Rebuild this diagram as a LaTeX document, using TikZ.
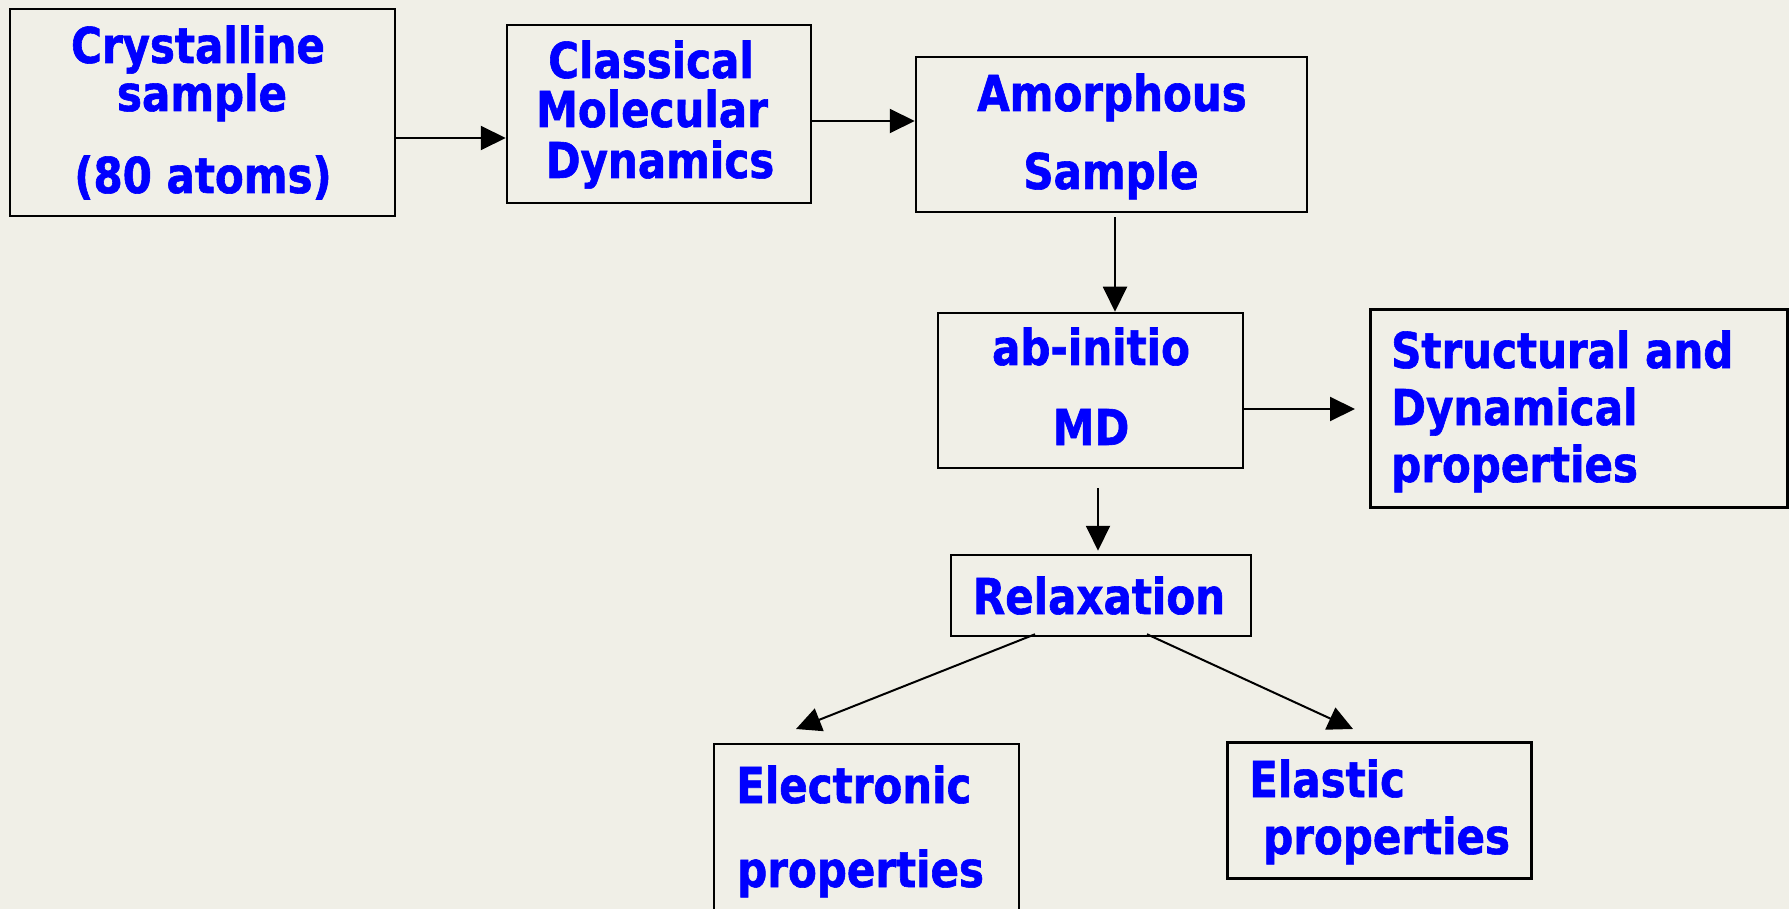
\documentclass[tikz,border=0pt]{standalone}
\usepackage{fontspec}
\newfontfamily\labfont{DejaVu Sans}[FakeStretch=0.85,FakeBold=1.2]
\usetikzlibrary{arrows.meta,fit}
\definecolor{paper}{RGB}{240,239,231}
\definecolor{ink}{RGB}{0,0,255}
\tikzset{
  stage/.style={draw=black, line width=2.5pt, rectangle, inner sep=0pt},
  heavy/.style={line width=3pt},
  txt/.style={anchor=base, inner sep=0pt, text=ink,
    font=\labfont\bfseries\fontsize{49.4}{59}\selectfont},
  txtl/.style={txt, anchor=base west},
  arr/.style={line width=2pt, -{Triangle[length=25pt,width=24pt]}},
}
\begin{document}
\begin{tikzpicture}[x=1pt,y=-1pt]
\useasboundingbox (0,0) rectangle (1789,909);
\clip (0,0) rectangle (1789,909);
\fill[paper] (0,0) rectangle (1789,909);

% boxes
\node[stage, fit={(10,9) (395,216)}] (b1) {};
\node[stage, fit={(507,25) (811,203)}] (b2) {};
\node[stage, fit={(916,57) (1307,212)}] (b3) {};
\node[stage, fit={(938,313) (1243,468)}] (b4) {};
\node[stage, heavy, fit={(1370,310) (1787,507)}] (b5) {};
\node[stage, fit={(951,555) (1251,636)}] (b6) {};
\node[stage, fit={(714,744) (1019,960)}] (b7) {};
\node[stage, heavy, fit={(1227,742) (1531,878)}] (b8) {};

% labels
\node[txt] (t1a) at (198,63) {Crystalline};
\node[txt] (t1b) at (202,111) {sample};
\node[txt] (t1c) at (203,193) {(80 atoms)};
\node[txt] (t2a) at (651,78) {Classical};
\node[txt] (t2b) at (652,127) {Molecular};
\node[txt] (t2c) at (660,178) {Dynamics};
\node[txt] (t3a) at (1112,111) {Amorphous};
\node[txt] (t3b) at (1111,189) {Sample};
\node[txt] (t4a) at (1091,365) {ab-initio};
\node[txt] (t4b) at (1091,445) {MD};
\node[txtl] (t5a) at (1391,368) {Structural and};
\node[txtl] (t5b) at (1391,425) {Dynamical};
\node[txtl] (t5c) at (1391,482) {properties};
\node[txt] (t6) at (1099,614) {Relaxation};
\node[txtl] (t7a) at (736,803) {Electronic};
\node[txtl] (t7b) at (737,887) {properties};
\node[txtl] (t8a) at (1249,797) {Elastic};
\node[txtl] (t8b) at (1263,854) {properties};

% connectors
\coordinate (tipS) at (1355,409);
\coordinate (tipE) at (796,729);
\coordinate (tipL) at (1353,729);
\draw[arr] (b1.east |- 0,138) -- (b2.west |- 0,138);
\draw[arr] (b2.east |- 0,121) -- (b3.west |- 0,121);
\draw[arr] ([yshift=-4pt]b3.south -| 1115,0) -- (b4.north -| 1115,0);
\draw[arr] (b4.east |- tipS) -- (tipS);
\draw[arr] ([yshift=-19pt]b4.south -| 1098,0) -- ([yshift=3pt]b6.north -| 1098,0);
\draw[arr] ([yshift=3pt]b6.south -| 1035,0) -- (tipE);
\draw[arr] ([yshift=3pt]b6.south -| 1147,0) -- (tipL);
\end{tikzpicture}
\end{document}
